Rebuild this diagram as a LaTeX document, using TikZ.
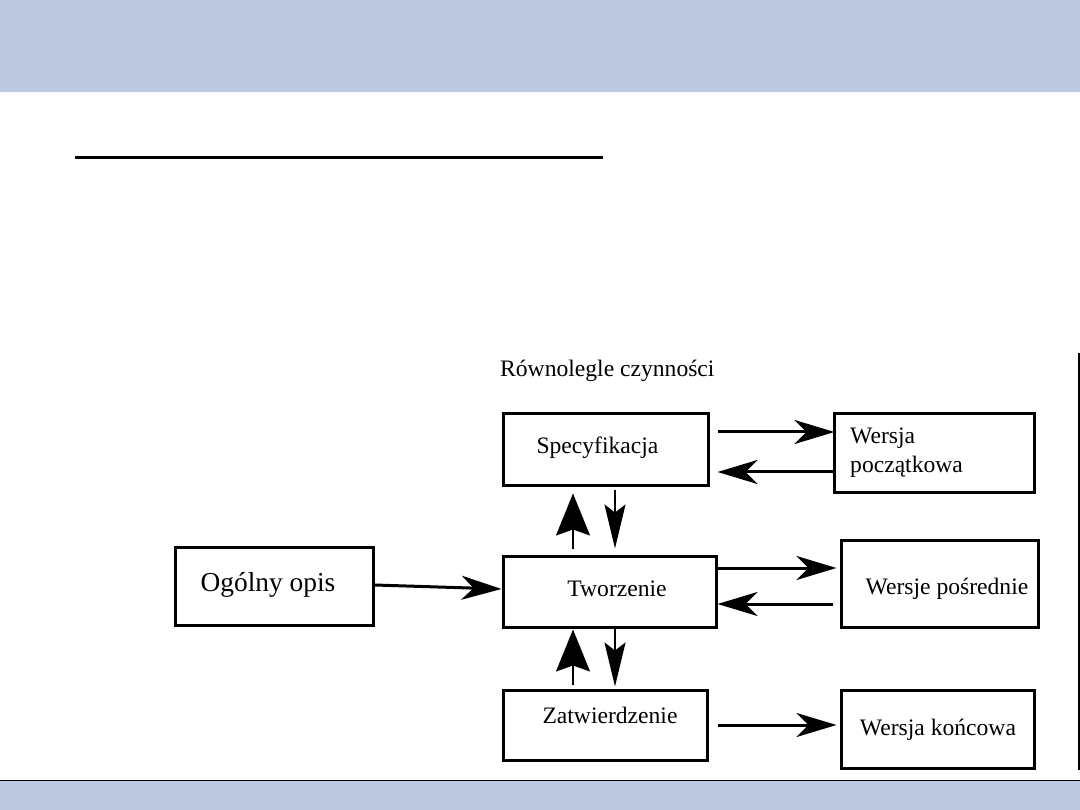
\documentclass[tikz,border=0pt]{standalone}
\usepackage{fontspec}
\setmainfont{Liberation Serif}
\usetikzlibrary{arrows.meta,calc}
\definecolor{band}{RGB}{189,201,225}
\begin{document}
\begin{tikzpicture}[x=1pt,y=-1pt,
  box/.style={draw=black,line width=3pt,minimum width=#1,inner sep=0pt},
  txt/.style={font=\fontsize{23.6}{29}\selectfont,inner sep=0pt},
  harr/.style={line width=3pt,-{Stealth[length=40pt,width=24pt,inset=12pt]}},
  uparr/.style={line width=1.5pt,-{Stealth[length=42pt,width=34pt,inset=6pt]}},
  dnarr/.style={line width=2.2pt,-{Stealth[length=44pt,width=21pt,inset=8pt]}}]
\useasboundingbox (0,0) rectangle (1080,810);
% bands
\fill[band] (0,0) rectangle (1080,92);
\draw[white!90!band,line width=1pt] (0,92.5) -- (1080,92.5);
\fill[band] (0,781) rectangle (1080,810);
\draw[black,line width=1pt] (0,780) -- (1080,780);
\draw[line width=3pt] (75,158) -- (603,158);
\draw[line width=1.5pt] (1079,353) -- (1079,770);
% boxes
\node[box=205pt,minimum height=71pt] (spec) at (605.5,449.5) {};
\node[box=200pt,minimum height=78pt] (wp) at (934,453) {};
\node[box=198pt,minimum height=78pt] (ogolny) at (274,586) {};
\node[box=213pt,minimum height=71pt] (tworz) at (609.5,591.5) {};
\node[box=197pt,minimum height=87pt] (wpos) at (939.5,583.5) {};
\node[box=204pt,minimum height=70pt] (zatw) at (605,725) {};
\node[box=193pt,minimum height=78pt] (wk) at (937.5,729) {};
% texts
\node[txt,anchor=base west] (title) at (500,377) {Równolegle czynności};
\node[txt] (tspec) at ($(spec)+(-8,-2)$) {Specyfikacja};
\node[txt,align=left,anchor=west] (twp) at (850,453) {Wersja\\początkowa};
\node[txt,font=\fontsize{27.4}{32}\selectfont] (togolny) at ($(ogolny)+(-6,-1)$) {Ogólny opis};
\node[txt] (ttworz) at ($(tworz)+(7.5,-2.5)$) {Tworzenie};
\node[txt] (twpos) at ($(wpos)+(7.5,5.5)$) {Wersje pośrednie};
\node[txt] (tzatw) at ($(zatw)+(5,-10)$) {Zatwierdzenie};
\node[txt] (twk) at ($(wk)+(0.5,1)$) {Wersja końcowa};
% arrows
\draw[harr] ($(spec.east)+(8,-17.5)$) -- ($(wp.west)+(2,-21)$);
\draw[harr] ($(wp.west)+(0,19)$) -- ($(spec.east)+(8,22.5)$);
\draw[uparr] ($(tworz.north)+(-36.5,-6)$) -- ($(spec.south)+(-32.5,7)$);
\draw[dnarr] ($(spec.south)+(9.5,3)$) -- ($(tworz.north)+(5.5,-6)$);
\draw[harr] ($(ogolny.east)+(0,-1)$) -- ($(tworz.west)+(0,-2.5)$);
\draw[harr] ($(tworz.east)+(0,-23.5)$) -- ($(wpos.west)+(-3,-15.5)$);
\draw[harr] ($(wpos.west)+(-7,20.5)$) -- ($(tworz.east)+(0,12.5)$);
\draw[uparr] ($(zatw.north)+(-32,-4)$) -- ($(tworz.south)+(-36.5,1)$);
\draw[dnarr] ($(tworz.south)+(5.5,0)$) -- ($(zatw.north)+(10,-2)$);
\draw[harr] ($(zatw.east)+(9,0)$) -- ($(wk.west)+(-3,-4)$);
\end{tikzpicture}
\end{document}
